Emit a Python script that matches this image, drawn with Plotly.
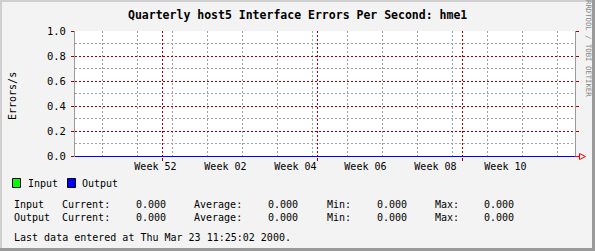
import plotly.graph_objects as go

# ---------------- data ----------------
title_text = "Quarterly host5 Interface Errors Per Second: hme1"
y_title = "Errors/s"
watermark = "RRDTOOL / TOBI OETIKER"
series_names = ["Input", "Output"]
series_colors = ["#00ff00", "#0000ff"]
times = ["1999-12-14 12:00", "1999-12-28 00:00", "2000-01-11 00:00", "2000-01-25 00:00",
         "2000-02-08 00:00", "2000-02-22 00:00", "2000-03-07 00:00", "2000-03-23 11:25"]
input_vals = [0, 0, 0, 0, 0, 0, 0, 0]
output_vals = [0, 0, 0, 0, 0, 0, 0, 0]
x_range = ["1999-12-14 12:00", "2000-03-23 12:00"]
week_grid_start = "1999-12-20"
month_grid_start = "2000-01-01"
week_label_dates = ["1999-12-30 14:00", "2000-01-13 14:00", "2000-01-27 14:00",
                    "2000-02-10 14:00", "2000-02-24 14:00", "2000-03-09 14:00"]
week_labels = ["Week 52", "Week 02", "Week 04", "Week 06", "Week 08", "Week 10"]
y_major_ticks = [0.0, 0.2, 0.4, 0.6, 0.8, 1.0]
y_minor_ticks = [0.1, 0.3, 0.5, 0.7, 0.9]
last_update = "Last data entered at Thu Mar 23 11:25:02 2000."

# ---------------- layout geometry ----------------
W, H = 595, 251
L, R, T, B = 75, 575, 31, 157     # plot area in pixels
FONT = "DejaVu Sans Mono"
MAJ = "#a00000"
MIN = "#a0a0a0"
DASH = "2px,2px"
HALF = 0.004   # half a pixel in data units (125 px per unit)


def px(x):
    return (x - L) / (R - L)


def py(y):
    return (B - y) / (B - T)


fig = go.Figure()
series = [input_vals, output_vals]
# invisible traces that create the overlay grid axes
fig.add_trace(go.Scatter(x=times, y=input_vals, xaxis="x2", yaxis="y", mode="none",
                         showlegend=False, hoverinfo="skip"))
fig.add_trace(go.Scatter(x=times, y=input_vals, xaxis="x", yaxis="y2", mode="none",
                         showlegend=False, hoverinfo="skip"))
fig.add_trace(go.Scatter(x=times, y=series[0], xaxis="x", yaxis="y", mode="lines",
                         name=series_names[0], line=dict(color=series_colors[0], width=1),
                         showlegend=False))
fig.add_trace(go.Scatter(x=times, y=series[1], xaxis="x3", yaxis="y", mode="lines",
                         name=series_names[1], line=dict(color=series_colors[1], width=1),
                         showlegend=False))

common_x = dict(type="date", range=x_range, zeroline=False)
fig.update_layout(
    width=W, height=H,
    margin=dict(l=L, r=W - R, t=T, b=H - B, pad=0),
    paper_bgcolor="#f3f3f3", plot_bgcolor="#ffffff",
    font=dict(family=FONT, size=10, color="#000000"),
    showlegend=False,
    xaxis=dict(**common_x, tick0=week_grid_start, dtick=7 * 86400000,
               showgrid=True, gridcolor=MIN, griddash=DASH, gridwidth=1,
               showticklabels=False, ticks="", showline=False),
    xaxis2=dict(**common_x, overlaying="x", matches="x", tick0=month_grid_start, dtick="M1",
                showgrid=True, gridcolor=MAJ, griddash=DASH, gridwidth=1,
                showticklabels=False, ticks="outside", ticklen=3, tickcolor=MAJ,
                showline=False),
    xaxis3=dict(**common_x, overlaying="x", matches="x", tickmode="array",
                tickvals=week_label_dates, ticktext=week_labels, showgrid=False,
                ticks="", showline=False, tickfont=dict(family=FONT, size=10),
                ticklabelstandoff=2),
    yaxis=dict(range=[y_major_ticks[0] - HALF, y_major_ticks[-1] + HALF],
               tickmode="array", tickvals=y_major_ticks, tickformat=".1f",
               showgrid=True, gridcolor=MAJ, griddash=DASH, gridwidth=1,
               ticks="outside", ticklen=3, tickcolor=MAJ, zeroline=False,
               showline=True, linecolor="#9a9a9a", mirror="ticks",
               tickfont=dict(family=FONT, size=10.5), ticklabelstandoff=3),
    yaxis2=dict(range=[y_major_ticks[0] - 2 * HALF, y_major_ticks[-1]], overlaying="y",
                tickmode="array", tickvals=y_minor_ticks,
                showgrid=True, gridcolor=MIN, griddash=DASH, gridwidth=1,
                showticklabels=False, ticks="", zeroline=False, showline=False),
)

ann = []
# title
ann.append(dict(text="<b>" + title_text + "</b>", x=px(297.5), y=py(15), xref="paper", yref="paper",
                showarrow=False, font=dict(family=FONT, size=11.5), xanchor="center", yanchor="middle"))
# y axis title
ann.append(dict(text=y_title, x=px(12), y=py(96), xref="paper", yref="paper", textangle=-90,
                showarrow=False, font=dict(family=FONT, size=10), xanchor="center", yanchor="middle"))
# watermark
ann.append(dict(text=watermark, x=px(588.5), y=py(48.5), xref="paper", yref="paper", textangle=90,
                showarrow=False, font=dict(family=FONT, size=7.3, color="#858585"),
                xanchor="center", yanchor="middle"))

shapes = []
# legend
legend_box_x = [12, 67]
legend_text_x = [26, 80]
for i, nm in enumerate(series_names):
    shapes.append(dict(type="rect", xref="paper", yref="paper",
                       x0=px(legend_box_x[i] + 0.5), x1=px(legend_box_x[i] + 8.5),
                       y0=py(178.5), y1=py(187.5), fillcolor=series_colors[i],
                       line=dict(color="#000000", width=1)))
    ann.append(dict(text=nm, x=px(legend_text_x[i]), y=py(183.5), xref="paper", yref="paper",
                    showarrow=False, font=dict(family=FONT, size=10), xanchor="left", yanchor="middle"))

# stats
col_x = [12, 60, 192, 325, 433]
val_x = [168, 300, 409, 516]
row_y = [204, 217.5]
for i, nm in enumerate(series_names):
    vals = series[i]
    stats = [vals[-1], sum(vals) / len(vals), min(vals), max(vals)]
    labels = [nm, "Current:", "Average:", "Min:", "Max:"]
    for j, lab in enumerate(labels):
        ann.append(dict(text=lab, x=px(col_x[j]), y=py(row_y[i]), xref="paper", yref="paper",
                        showarrow=False, font=dict(family=FONT, size=10),
                        xanchor="left", yanchor="middle"))
    for j, v in enumerate(stats):
        ann.append(dict(text=f"{v:.3f}", x=px(val_x[j]), y=py(row_y[i]), xref="paper", yref="paper",
                        showarrow=False, font=dict(family=FONT, size=10),
                        xanchor="right", yanchor="middle"))

ann.append(dict(text=last_update, x=px(12), y=py(237.5), xref="paper", yref="paper",
                showarrow=False, font=dict(family=FONT, size=10), xanchor="left", yanchor="middle"))

# arrow at end of x axis
shapes.append(dict(type="path", xref="paper", yref="paper",
                   path=f"M {px(575)},{py(156.5)} L {px(579.5)},{py(156.5)} "
                        f"M {px(579.5)},{py(153.5)} L {px(585.5)},{py(156.5)} L {px(579.5)},{py(159.5)} Z",
                   line=dict(color="#ff0000", width=1), fillcolor="rgba(0,0,0,0)"))

# bevel border
shapes.append(dict(type="rect", xref="paper", yref="paper", x0=px(0), x1=px(2), y0=py(0), y1=py(H),
                   fillcolor="#cfcfcf", line=dict(width=0), layer="above"))
shapes.append(dict(type="rect", xref="paper", yref="paper", x0=px(0), x1=px(W), y0=py(0), y1=py(2),
                   fillcolor="#cfcfcf", line=dict(width=0), layer="above"))
shapes.append(dict(type="rect", xref="paper", yref="paper", x0=px(W - 3), x1=px(W), y0=py(0), y1=py(H),
                   fillcolor="#9a9a9a", line=dict(width=0), layer="above"))
shapes.append(dict(type="rect", xref="paper", yref="paper", x0=px(0), x1=px(W), y0=py(H - 3), y1=py(H),
                   fillcolor="#9a9a9a", line=dict(width=0), layer="above"))

fig.update_layout(annotations=ann, shapes=shapes)
fig.write_html("out.html")
